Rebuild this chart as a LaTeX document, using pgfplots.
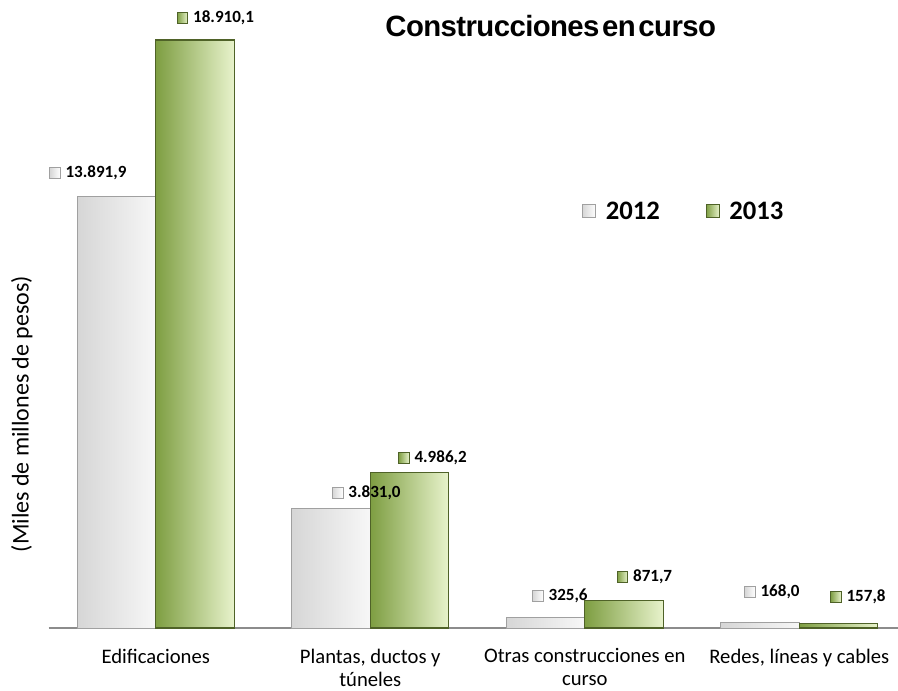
\documentclass[border=0pt]{standalone}
\usepackage{pgfplots}
\pgfplotsset{compat=1.18}
\usepackage{fontspec}
\setmainfont{Carlito}
\newfontfamily\titlefont{Liberation Sans}[WordSpace=0.35, LetterSpace=-2]
\definecolor{grayL}{HTML}{D6D6D6}
\definecolor{grayM}{HTML}{E8E8E8}
\definecolor{grayR}{HTML}{F7F7F7}
\definecolor{grayB}{HTML}{A0A0A0}
\definecolor{grnL}{HTML}{7E9E42}
\definecolor{grnM}{HTML}{A9C768}
\definecolor{grnR}{HTML}{E8F3CC}
\definecolor{grnB}{HTML}{4F6228}
\definecolor{axisgray}{HTML}{8C8C8C}

\tikzset{
  key12/.style={draw=grayB, line width=0.6pt, left color=grayL, right color=white, minimum size=8pt, inner sep=0pt},
  key13/.style={draw=grnB, line width=0.6pt, left color=grnL, right color=grnR, minimum size=8pt, inner sep=0pt},
  lab/.style={font=\fontsize{12.8}{15}\selectfont\bfseries, inner sep=0pt, anchor=center},
}
\pgfplotsset{
  b12/.style={ybar, bar width=58.9pt, bar shift=-29.45pt, draw=grayB, line width=0.6pt,
    left color=grayL, middle color=grayM, right color=grayR},
  b13/.style={ybar, bar width=58.9pt, bar shift=29.45pt, draw=grnB, line width=0.8pt,
    left color=grnL, middle color=grnM, right color=grnR},
}
% x, y, xshift, yshift, text, key style
\newcommand{\dlab}[6]{%
  \node[lab, xshift=#3, yshift=#4] (L) at (axis cs:#1,#2) {#5};
  \node[#6, anchor=east] at ([xshift=-3.5pt]L.west) {};}

\begin{document}
\begin{tikzpicture}
\path[use as bounding box] (-36.4pt,-47.25pt) rectangle (637.1pt,471pt);
\begin{axis}[
  scale only axis, width=637.1pt, height=471pt,
  xmin=-0.5, xmax=3.46, ymin=0, ymax=20196,
  axis x line*=bottom, axis y line=none,
  x axis line style={draw=axisgray, line width=1.5pt},
  xtick={0,1,2,3}, major tick length=0pt,
  xticklabels={Edificaciones, {Plantas, ductos y\\túneles}, {Otras construcciones en\\curso}, {Redes, líneas y cables}},
  xticklabel style={font=\fontsize{15.5}{17.3}\selectfont, align=center, yshift=-12pt},
  clip=false,
]
% 2012
\addplot[b12] coordinates {(0,13891.9)};
\addplot[b12] coordinates {(1,3831.0)};
\addplot[b12] coordinates {(2,325.6)};
\addplot[b12] coordinates {(3,168.0)};
% 2013
\addplot[b13] coordinates {(0,18910.1)};
\addplot[b13] coordinates {(1,4986.2)};
\addplot[b13] coordinates {(2,871.7)};
\addplot[b13] coordinates {(3,157.8)};

\dlab{-0.183}{13891.9}{-15.4pt}{17.3pt}{13.891,9}{key12}
\dlab{0.183}{18910.1}{21.4pt}{16.5pt}{18.910,1}{key13}
\dlab{0.817}{3831.0}{32.6pt}{12pt}{3.831,0}{key12}
\dlab{1.183}{4986.2}{23.3pt}{11.3pt}{4.986,2}{key13}
\dlab{1.817}{325.6}{16.9pt}{16.5pt}{325,6}{key12}
\dlab{2.183}{871.7}{21.4pt}{18pt}{871,7}{key13}
\dlab{2.817}{168.0}{15pt}{23.3pt}{168,0}{key12}
\dlab{3.183}{157.8}{20.6pt}{19.5pt}{157,8}{key13}

% title
\node[anchor=base, font=\titlefont\fontsize{22}{26}\selectfont\bfseries] at (axis cs:1.841,19007) {Construcciones en curso};
% y label
\node[rotate=90, font=\fontsize{18}{21}\selectfont] at (axis cs:-0.625,6882) {(Miles de millones de pesos)};
% legend
\node[font=\fontsize{20}{24}\selectfont\bfseries, inner sep=0pt] (A) at (axis cs:2.224,13411) {2012};
\node[key12, minimum size=10pt, anchor=east] at ([xshift=-7pt]A.west) {};
\node[font=\fontsize{20}{24}\selectfont\bfseries, inner sep=0pt] (B) at (axis cs:2.8,13411) {2013};
\node[key13, minimum size=10pt, anchor=east] at ([xshift=-7pt]B.west) {};
\end{axis}
\end{tikzpicture}
\end{document}
